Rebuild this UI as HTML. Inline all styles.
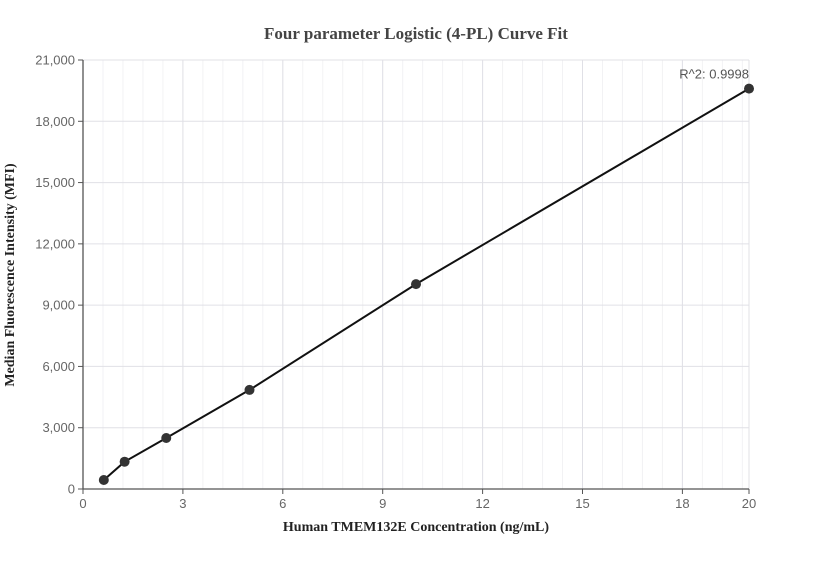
<!DOCTYPE html>
<html><head><meta charset="utf-8"><style>
body{margin:0;background:#fff;width:832px;height:560px;overflow:hidden}
text{font-family:"Liberation Sans",sans-serif}
</style></head><body>
<svg id="chart" width="832" height="560">
<text x="416" y="39" text-anchor="middle" font-family="Liberation Serif" font-weight="bold" font-size="17" fill="#444" style="font-family:'Liberation Serif',serif">Four parameter Logistic (4-PL) Curve Fit</text>
<g id="grid"></g><g id="axes"></g><g id="marks"></g>
<text x="416" y="531" text-anchor="middle" font-weight="bold" font-size="14" style="font-family:'Liberation Serif',serif" fill="#222">Human TMEM132E Concentration (ng/mL)</text>
<text transform="translate(14,275) rotate(-90)" text-anchor="middle" font-weight="bold" font-size="14" style="font-family:'Liberation Serif',serif" fill="#222">Median Fluorescence Intensity (MFI)</text>
</svg>
<script>
const xVals=[0.625,1.25,2.5,5,10,20];
const yVals=[440,1336,2497,4850,10030,19600];
const xTicks=[0,3,6,9,12,15,18,20];
const yTicks=[0,3000,6000,9000,12000,15000,18000,21000];
const yTickLabels=["0","3,000","6,000","9,000","12,000","15,000","18,000","21,000"];
const r2Label="R^2: 0.9998";
const X0=83,X1=749,Y0=489,Y1=60;
const sx=v=>X0+(v/20)*(X1-X0), sy=v=>Y0-(v/21000)*(Y0-Y1);
const NS="http://www.w3.org/2000/svg";
function mk(p,t,a){const e=document.createElementNS(NS,t);for(const k in a)e.setAttribute(k,a[k]);p.appendChild(e);return e;}
const grid=document.getElementById('grid'),axes=document.getElementById('axes'),marks=document.getElementById('marks');
for(let v=0.6;v<20;v+=0.6){const g=mk(grid,'line',{x1:sx(v),x2:sx(v),y1:Y1,y2:Y0,stroke:'#f2f2f4'});

}
xTicks.forEach(v=>{const g=mk(grid,'line',{x1:sx(v),x2:sx(v),y1:Y1,y2:Y0,stroke:'#e0e0e6'});


const t=mk(axes,'line',{x1:sx(v),x2:sx(v),y1:Y0,y2:Y0+5,stroke:'#555'});


const l=mk(axes,'text',{x:sx(v),y:Y0+19,'text-anchor':'middle','font-size':13,fill:'#666'});l.textContent=v;

});
yTicks.forEach((v,i)=>{const g=mk(grid,'line',{x1:X0,x2:X1,y1:sy(v),y2:sy(v),stroke:'#e0e0e6'});


const t=mk(axes,'line',{x1:X0-5,x2:X0,y1:sy(v),y2:sy(v),stroke:'#555'});


const l=mk(axes,'text',{x:X0-8,y:sy(v)+4.5,'text-anchor':'end','font-size':13,fill:'#666'});l.textContent=yTickLabels[i];

});
const ax=mk(axes,'path',{d:`M${X0},${Y1}V${Y0}H${X1}`,stroke:'#555',fill:'none','stroke-width':1.3});


const line=mk(marks,'polyline',{points:xVals.map((x,i)=>sx(x)+','+sy(yVals[i])).join(' '),fill:'none',stroke:'#111','stroke-width':2});


xVals.forEach((x,i)=>{const c=mk(marks,'circle',{cx:sx(x),cy:sy(yVals[i]),r:5,fill:'#333'});

});
const r=mk(marks,'text',{x:sx(20),y:sy(yVals[5])-10,'text-anchor':'end','font-size':13,fill:'#555'});r.textContent=r2Label;


</script>
</body></html>
